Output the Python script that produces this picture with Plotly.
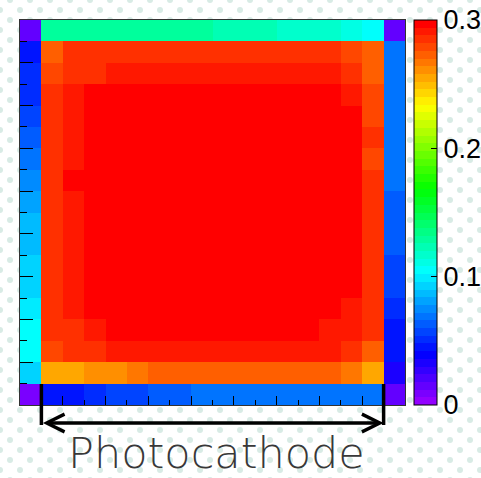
import base64
import colorsys
import plotly.graph_objects as go

# ---------------- data (18 x 18 cells, rows listed top -> bottom) ----------------
col_centers = [c + 0.5 for c in range(18)]
row_centers = [r + 0.5 for r in range(18)]

row_00 = [0.012, 0.131, 0.131, 0.131, 0.131, 0.131, 0.131, 0.131, 0.131, 0.121, 0.121, 0.121, 0.116, 0.116, 0.116, 0.112, 0.104, 0.015]
row_01 = [0.047, 0.274, 0.282, 0.282, 0.287, 0.287, 0.287, 0.287, 0.287, 0.287, 0.287, 0.287, 0.287, 0.287, 0.287, 0.280, 0.273, 0.070]
row_02 = [0.050, 0.279, 0.284, 0.284, 0.291, 0.291, 0.291, 0.291, 0.291, 0.291, 0.291, 0.291, 0.291, 0.291, 0.291, 0.285, 0.274, 0.070]
row_03 = [0.052, 0.287, 0.292, 0.297, 0.297, 0.297, 0.297, 0.297, 0.297, 0.297, 0.297, 0.297, 0.297, 0.297, 0.297, 0.291, 0.277, 0.070]
row_04 = [0.058, 0.287, 0.292, 0.297, 0.297, 0.297, 0.297, 0.297, 0.297, 0.297, 0.297, 0.297, 0.297, 0.297, 0.297, 0.297, 0.277, 0.070]
row_05 = [0.063, 0.287, 0.292, 0.297, 0.297, 0.297, 0.297, 0.297, 0.297, 0.297, 0.297, 0.297, 0.297, 0.297, 0.297, 0.297, 0.287, 0.070]
row_06 = [0.068, 0.287, 0.292, 0.297, 0.297, 0.297, 0.297, 0.297, 0.297, 0.297, 0.297, 0.297, 0.297, 0.297, 0.297, 0.297, 0.281, 0.070]
row_07 = [0.073, 0.287, 0.297, 0.297, 0.297, 0.297, 0.297, 0.297, 0.297, 0.297, 0.297, 0.297, 0.297, 0.297, 0.297, 0.297, 0.287, 0.070]
row_08 = [0.078, 0.287, 0.292, 0.297, 0.297, 0.297, 0.297, 0.297, 0.297, 0.297, 0.297, 0.297, 0.297, 0.297, 0.297, 0.297, 0.287, 0.063]
row_09 = [0.084, 0.287, 0.292, 0.297, 0.297, 0.297, 0.297, 0.297, 0.297, 0.297, 0.297, 0.297, 0.297, 0.297, 0.297, 0.297, 0.287, 0.063]
row_10 = [0.088, 0.287, 0.292, 0.297, 0.297, 0.297, 0.297, 0.297, 0.297, 0.297, 0.297, 0.297, 0.297, 0.297, 0.297, 0.297, 0.287, 0.063]
row_11 = [0.090, 0.287, 0.292, 0.297, 0.297, 0.297, 0.297, 0.297, 0.297, 0.297, 0.297, 0.297, 0.297, 0.297, 0.297, 0.297, 0.287, 0.055]
row_12 = [0.093, 0.287, 0.292, 0.297, 0.297, 0.297, 0.297, 0.297, 0.297, 0.297, 0.297, 0.297, 0.297, 0.297, 0.297, 0.297, 0.287, 0.055]
row_13 = [0.098, 0.287, 0.292, 0.297, 0.297, 0.297, 0.297, 0.297, 0.297, 0.297, 0.297, 0.297, 0.297, 0.297, 0.297, 0.292, 0.287, 0.050]
row_14 = [0.103, 0.282, 0.287, 0.292, 0.297, 0.297, 0.297, 0.297, 0.297, 0.297, 0.297, 0.297, 0.297, 0.297, 0.292, 0.292, 0.282, 0.045]
row_15 = [0.104, 0.279, 0.284, 0.284, 0.291, 0.291, 0.291, 0.291, 0.291, 0.291, 0.291, 0.291, 0.291, 0.291, 0.291, 0.287, 0.274, 0.045]
row_16 = [0.090, 0.255, 0.255, 0.262, 0.262, 0.267, 0.272, 0.272, 0.272, 0.272, 0.272, 0.272, 0.272, 0.272, 0.272, 0.267, 0.255, 0.035]
row_17 = [0.010, 0.045, 0.045, 0.050, 0.055, 0.055, 0.060, 0.060, 0.070, 0.070, 0.070, 0.070, 0.070, 0.070, 0.070, 0.070, 0.070, 0.015]

z_rows = [row_00, row_01, row_02, row_03, row_04, row_05, row_06, row_07, row_08,
          row_09, row_10, row_11, row_12, row_13, row_14, row_15, row_16, row_17]

z_min, z_max = 0.0, 0.3
cbar_tickvals = [0.0, 0.1, 0.2, 0.3]
cbar_ticktext = ["0", "0.1", "0.2", "0.3"]

photocathode_first_col = 1    # cell boundary where the photocathode starts
photocathode_last_col = 17    # cell boundary where it ends
label_text = "Photocathode"

# ---------------- ROOT "pretty" palette (50 bands violet -> red) ----------------
n_bands = 50
colorscale = []
for i in range(n_bands):
    hue = 280 - (i + 1) * (280 / n_bands) if i < n_bands - 1 else 0
    r, g, b = colorsys.hls_to_rgb(hue / 360.0, 0.5, 1.0)
    col = "rgb(%d,%d,%d)" % (round(r * 255), round(g * 255), round(b * 255))
    colorscale.append([i / n_bands, col])
    colorscale.append([(i + 1) / n_bands, col])

# ---------------- geometry ----------------
W, H = 481, 478
ml, mr, mt, mb = 20, 76, 20, 73
pw = W - ml - mr
ph = H - mt - mb

# dotted slide background
dots = []
for yy in range(-5, H + 20, 20):
    for xx in range(0, W + 20, 20):
        dots.append('<circle cx="%d" cy="%d" r="3" fill="#d8ebe5"/>' % (xx + 10, yy + 5))
        dots.append('<circle cx="%d" cy="%d" r="3" fill="#d8ebe5"/>' % (xx, yy + 15))
svg = ('<svg xmlns="http://www.w3.org/2000/svg" width="%d" height="%d" viewBox="0 0 %d %d">'
       '<rect width="100%%" height="100%%" fill="white"/>%s</svg>') % (W, H, W, H, "".join(dots))
bg_src = "data:image/svg+xml;base64," + base64.b64encode(svg.encode()).decode()

fig = go.Figure()
fig.add_trace(go.Heatmap(
    z=z_rows, x=col_centers, y=row_centers,
    zmin=z_min, zmax=z_max, colorscale=colorscale,
    hoverinfo="skip",
    colorbar=dict(
        tickvals=cbar_tickvals, ticktext=cbar_ticktext,
        ticks="inside", ticklen=6, tickwidth=1, tickcolor="black",
        tickfont=dict(family="Liberation Sans, Arial, sans-serif", size=27, color="black"),
        thickness=23, thicknessmode="pixels",
        len=1, lenmode="fraction", y=0.5, yanchor="middle",
        x=(414 - ml) / pw, xanchor="left", xpad=0, ypad=0,
        outlinewidth=1, outlinecolor="black",
    ),
))

axis_common = dict(showticklabels=False, showgrid=False, zeroline=False,
                   showline=True, linecolor="#333333", linewidth=1, mirror=True,
                   ticks="inside", tickcolor="black", tickwidth=1, tick0=0, dtick=2)
fig.update_xaxes(range=[0, 18], ticklen=9,
                 minor=dict(ticks="inside", dtick=1, tick0=0, ticklen=5, tickcolor="black", tickwidth=1),
                 **axis_common)
fig.update_yaxes(range=[18, 0], ticklen=13,
                 minor=dict(ticks="inside", dtick=1, tick0=0, ticklen=7, tickcolor="black", tickwidth=1),
                 **axis_common)

arrow_y = -(423 - (mt + ph)) / ph
fig.add_annotation(x=photocathode_last_col, xref="x", y=arrow_y, yref="paper",
                   ax=photocathode_first_col, axref="x", ay=0, ayref="pixel",
                   text="", showarrow=True, arrowside="end+start",
                   arrowhead=5, startarrowhead=5, arrowsize=1, startarrowsize=1,
                   arrowwidth=3.5, arrowcolor="black", standoff=0, startstandoff=0)
for xc in (photocathode_first_col, photocathode_last_col):
    fig.add_shape(type="line", xref="x", yref="paper", x0=xc, x1=xc,
                  y0=-(425 - (mt + ph)) / ph, y1=((mt + ph) - 384) / ph,
                  line=dict(color="black", width=3.5), layer="above")

fig.add_annotation(text=label_text, xref="paper", yref="paper",
                   x=(217 - ml) / pw, y=-(452.5 - (mt + ph)) / ph,
                   xanchor="center", yanchor="middle", showarrow=False,
                   font=dict(family="DejaVu Sans", size=43, color="#383838", weight=200))

fig.update_layout(
    width=W, height=H, autosize=False,
    margin=dict(l=ml, r=mr, t=mt, b=mb, pad=0, autoexpand=False),
    paper_bgcolor="white", plot_bgcolor="white",
    showlegend=False,
    images=[dict(source=bg_src, xref="paper", yref="paper",
                 x=-ml / pw, y=1 + mt / ph, sizex=W / pw, sizey=H / ph,
                 xanchor="left", yanchor="top", sizing="stretch", layer="below")],
)

fig.write_html("out.html", config={"displayModeBar": False},
               post_script="document.body.style.margin='0';document.body.style.overflow='hidden';")
